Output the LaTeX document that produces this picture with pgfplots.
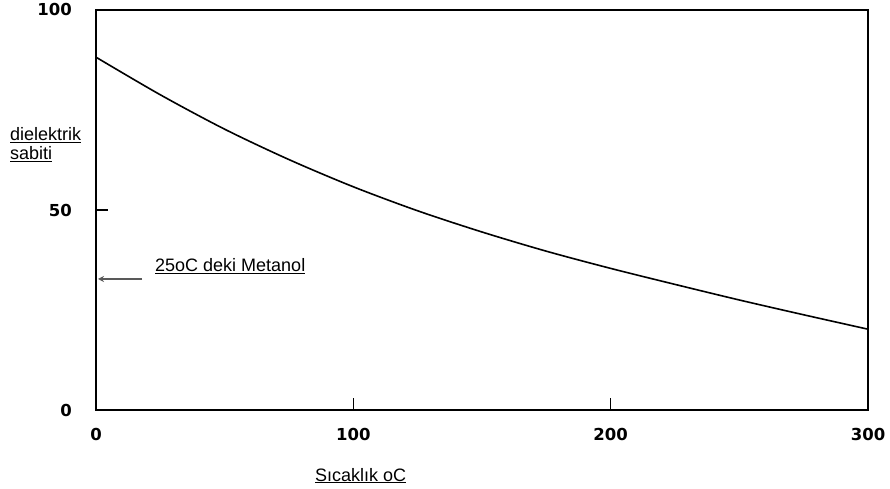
\documentclass[border=0pt]{standalone}
\usepackage{pgfplots}
\pgfplotsset{compat=1.18}
\usetikzlibrary{arrows.meta}
\usepackage{fontspec}
\setmainfont{Liberation Sans}
\newfontfamily\tickfont{DejaVu Sans}
\begin{document}
\begin{tikzpicture}
\path[use as bounding box] (-96pt,-79pt) rectangle (794pt,410pt);
\begin{axis}[
  at={(0pt,0pt)}, anchor=south west,
  scale only axis, width=772pt, height=400pt,
  xmin=0, xmax=300, ymin=0, ymax=100,
  xtick={0,100,200,300}, ytick={0,50,100},
  tick align=inside, xtick pos=bottom, ytick pos=left,
  major tick length=12pt,
  axis line style={line width=1.5pt, black},
  every axis/.append style={line width=1.5pt},
  tick style={line width=1.5pt, black},
  ticklabel style={font=\tickfont\bfseries\fontsize{16.5}{16.5}\selectfont},
  /pgf/number format/assume math mode=true,
  xticklabel style={yshift=-14pt},
  yticklabel style={xshift=-20pt},
  clip=false,
]
\addplot[black, line width=1.6pt, smooth, tension=0.5] coordinates {
  (0,88.2) (25,78.8) (50,70.2) (75,62.6) (100,55.8) (125,49.8) (150,44.5)
  (175,39.7) (200,35.4) (225,31.4) (250,27.5) (275,23.8) (300,20.2)
};
\end{axis}
\begin{scope}[every node/.style={inner sep=0pt, anchor=base west, font=\fontsize{18}{18}\selectfont}]
\node at (-86pt,269pt) {\underline{dielektrik}};
\node at (-86pt,250pt) {\underline{sabiti}};
\node at (59pt,138pt) {\underline{25oC deki Metanol}};
\node at (219pt,-71pt) {\underline{Sıcaklık oC}};
\end{scope}
\draw[gray!70!black, line width=1.3pt, -{Stealth[length=6pt,width=6pt]}] (46pt,131pt) -- (2pt,131pt);
\end{tikzpicture}
\end{document}
